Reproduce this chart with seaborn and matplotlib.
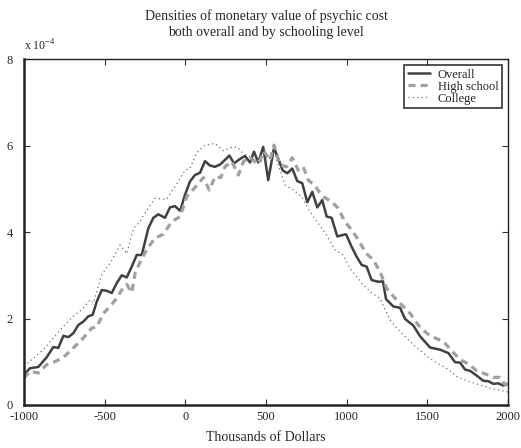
import pandas as pd
import seaborn as sns
import matplotlib
matplotlib.use("Agg")
import matplotlib.pyplot as plt

# values, densities in units of 1e-4
overall_x = [-1000, -963, -911, -860, -818, -787, -756, -725, -694, -663, -632, -601, -574, -549,
             -518, -487, -456, -425, -394, -363, -332, -301, -270, -229, -198, -167, -126, -95,
             -64, -32, -2, 29, 60, 91, 122, 153, 184, 215, 246, 273, 302, 339, 370, 401, 426,
             452, 483, 514, 550, 583, 603, 632, 663, 694, 725, 756, 787, 818, 849, 876, 907,
             942, 996, 1031, 1062, 1093, 1124, 1155, 1196, 1225, 1244, 1289, 1331, 1362, 1413,
             1455, 1517, 1579, 1631, 1672, 1703, 1734, 1765, 1806, 1847, 1878, 1909, 1940,
             1971, 2000]
overall_y = [0.70, 0.85, 0.88, 1.10, 1.34, 1.32, 1.60, 1.57, 1.66, 1.85, 1.93, 2.05, 2.09, 2.39,
             2.66, 2.64, 2.59, 2.82, 3.00, 2.95, 3.20, 3.47, 3.47, 4.09, 4.33, 4.41, 4.33, 4.57,
             4.60, 4.49, 4.86, 5.17, 5.32, 5.37, 5.64, 5.54, 5.51, 5.56, 5.67, 5.77, 5.59, 5.69,
             5.76, 5.61, 5.86, 5.61, 5.97, 5.20, 5.95, 5.63, 5.43, 5.36, 5.47, 5.18, 5.13, 4.69,
             4.93, 4.57, 4.74, 4.36, 4.33, 3.90, 3.95, 3.66, 3.43, 3.24, 3.20, 2.89, 2.85, 2.86,
             2.45, 2.28, 2.25, 1.99, 1.84, 1.59, 1.33, 1.28, 1.20, 0.99, 0.98, 0.82, 0.79, 0.68,
             0.56, 0.55, 0.49, 0.50, 0.45, 0.48]

hs_x = [-1000, -963, -911, -860, -798, -756, -694, -632, -580, -549, -508, -466, -425, -394,
        -363, -332, -311, -281, -240, -188, -136, -84, -32, 9, 60, 112, 149, 184, 220, 246,
        288, 329, 360, 401, 452, 487, 525, 550, 587, 628, 663, 700, 731, 762, 803, 830, 855,
        907, 948, 989, 1031, 1072, 1120, 1165, 1206, 1248, 1300, 1351, 1393, 1444, 1496, 1548,
        1600, 1651, 1703, 1755, 1806, 1858, 1909, 1950, 1981, 2000]
hs_y = [0.62, 0.78, 0.74, 0.93, 1.02, 1.10, 1.32, 1.55, 1.78, 1.80, 2.12, 2.28, 2.47, 2.66,
        2.79, 2.60, 3.05, 3.30, 3.59, 3.86, 3.95, 4.24, 4.36, 4.82, 5.03, 5.26, 4.97, 5.28,
        5.26, 5.51, 5.63, 5.32, 5.63, 5.72, 5.57, 5.87, 5.66, 6.01, 5.55, 5.51, 5.72, 5.43,
        5.51, 5.20, 5.08, 4.93, 4.82, 4.70, 4.55, 4.24, 4.05, 3.82, 3.51, 3.36, 3.09, 2.70,
        2.47, 2.28, 2.12, 1.85, 1.66, 1.55, 1.47, 1.25, 1.05, 0.95, 0.79, 0.72, 0.64, 0.64,
        0.47, 0.50]

col_x = [-1000, -942, -880, -818, -756, -694, -632, -591, -570, -518, -466, -404, -363, -321,
         -281, -259, -188, -116, -54, -2, 29, 71, 122, 184, 236, 277, 318, 360, 411, 463, 504,
         556, 587, 618, 670, 721, 773, 824, 876, 927, 979, 1020, 1062, 1103, 1155, 1206, 1268,
         1320, 1372, 1424, 1475, 1527, 1579, 1631, 1682, 1734, 1786, 1837, 1889, 1940, 2000]
col_y = [0.90, 1.08, 1.28, 1.55, 1.82, 2.05, 2.24, 2.43, 2.36, 3.01, 3.28, 3.70, 3.50, 4.09,
         4.24, 4.39, 4.78, 4.76, 5.11, 5.43, 5.47, 5.84, 6.01, 6.05, 5.88, 5.95, 5.97, 5.82,
         5.70, 5.64, 5.66, 5.80, 5.43, 5.09, 4.97, 4.82, 4.47, 4.20, 3.93, 3.59, 3.47, 3.16,
         2.97, 2.78, 2.59, 2.47, 1.97, 1.74, 1.55, 1.36, 1.20, 1.05, 0.93, 0.82, 0.66, 0.58,
         0.51, 0.45, 0.39, 0.35, 0.30]

sns.set_style("ticks")
plt.rcParams["font.family"] = ["Liberation Serif", "DejaVu Serif"]
plt.rcParams["axes.unicode_minus"] = False

fig, ax = plt.subplots(figsize=(5.21, 4.48), dpi=100)
fig.subplots_adjust(left=0.046, right=0.975, top=0.868, bottom=0.096)

sns.lineplot(x=overall_x, y=overall_y, ax=ax, color="#404040", lw=1.8, label="Overall")
sns.lineplot(x=hs_x, y=hs_y, ax=ax, color="#a0a0a0", lw=2.3, linestyle=(0, (2.2, 1.6)),
             label="High school")
sns.lineplot(x=col_x, y=col_y, ax=ax, color="#707070", lw=0.9, linestyle=(0, (1, 2.5)),
             label="College")

ax.set_xlim(-1000, 2000)
ax.set_ylim(0, 8)
ax.set_xticks([-1000, -500, 0, 500, 1000, 1500, 2000])
ax.set_yticks([0, 2, 4, 6, 8])
ax.tick_params(direction="in", length=4, width=0.8, labelsize=9, top=True, right=True,
               labeltop=False, labelright=False, color="#333333", pad=4)
ax.tick_params(axis="y", pad=8)
for side in ["left", "bottom"]:
    ax.spines[side].set_linewidth(1.8)
for side in ["top", "right"]:
    ax.spines[side].set_linewidth(1.0)
for s in ax.spines.values():
    s.set_color("#222222")

ax.text(0.0, 1.015, r"x 10$^{\mathregular{-4}}$", transform=ax.transAxes, fontsize=8.5,
        ha="left", va="bottom")

ax.set_title("Densities of monetary value of psychic cost\nboth overall and by schooling level",
             fontsize=10, pad=17, linespacing=1.3)
ax.set_xlabel("Thousands of Dollars", fontsize=10, labelpad=6)
ax.set_ylabel("")

leg = ax.legend(loc="upper right", fontsize=9, frameon=True, fancybox=False,
                edgecolor="black", handlelength=1.8, borderpad=0.3, labelspacing=0.0,
                handletextpad=0.6, borderaxespad=0.45)
leg.get_frame().set_linewidth(1.2)

plt.savefig("out.png", dpi=100)
